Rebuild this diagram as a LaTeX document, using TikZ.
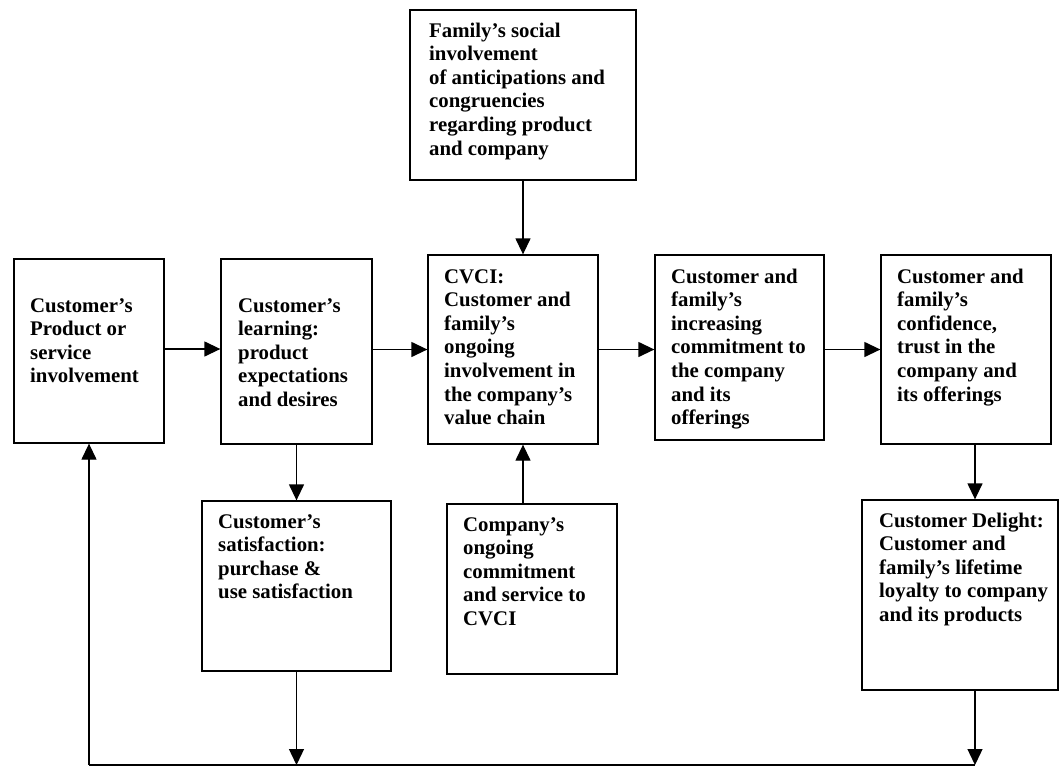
\documentclass[tikz,border=0pt]{standalone}
\usepackage{fontspec}
\setmainfont{Liberation Serif}
\usetikzlibrary{arrows.meta,calc}
\begin{document}
\begin{tikzpicture}[x=1pt,y=-1pt,
  box/.style={draw,line width=1.3pt,inner sep=0pt},
  txt/.style={inner sep=0pt,anchor=base west,font=\bfseries\fontsize{20.8}{23.6}\selectfont},
  arr/.style={line width=1.3pt,-{Triangle[length=16pt,width=15pt]}},
  ln/.style={line width=1.3pt}]
\useasboundingbox (0,0) rectangle (1060,766);
\fill[white] (0,0) rectangle (1060,766);
% boxes
\node[box,minimum width=150pt,minimum height=184pt] (A) at (89,351) {};
\node[box,minimum width=151pt,minimum height=185pt] (B) at (296.5,351.5) {};
\node[box,minimum width=170pt,minimum height=189pt] (C) at (513,349.5) {};
\node[box,minimum width=226pt,minimum height=170pt] (T) at (523,95) {};
\node[box,minimum width=169pt,minimum height=185pt] (D) at (739.5,347.5) {};
\node[box,minimum width=170pt,minimum height=189pt] (E) at (966,349.5) {};
\node[box,minimum width=189pt,minimum height=170pt] (F) at (296.5,586) {};
\node[box,minimum width=170pt,minimum height=170pt] (G) at (532,589) {};
\node[box,minimum width=196pt,minimum height=190pt] (H) at (960,595) {};
% texts
\node[txt] (tA) at (30,312) {\parbox[t]{140pt}{\raggedright Customer’s\\Product or\\service\\involvement}};
\node[txt] (tB) at (238,312) {\parbox[t]{140pt}{\raggedright Customer’s\\learning:\\product\\expectations\\and desires}};
\node[txt] (tT) at (429,37) {\parbox[t]{210pt}{\raggedright Family’s social\\involvement\\of anticipations and\\congruencies\\regarding product\\and company}};
\node[txt] (tC) at (444,283) {\parbox[t]{160pt}{\raggedright CVCI:\\Customer and\\family’s\\ongoing\\involvement in\\the company’s\\value chain}};
\node[txt] (tD) at (671,283) {\parbox[t]{160pt}{\raggedright Customer and\\family’s\\increasing\\commitment to\\the company\\and its\\offerings}};
\node[txt] (tE) at (897,283) {\parbox[t]{160pt}{\raggedright Customer and\\family’s\\confidence,\\trust in the\\company and\\its offerings}};
\node[txt] (tF) at (218,528) {\parbox[t]{180pt}{\raggedright Customer’s\\satisfaction:\\purchase \&\\use satisfaction}};
\node[txt] (tG) at (463,531) {\parbox[t]{160pt}{\raggedright Company’s\\ongoing\\commitment\\and service to\\CVCI}};
\node[txt] (tH) at (879,527) {\parbox[t]{190pt}{\raggedright Customer Delight:\\Customer and\\family’s lifetime\\loyalty to company\\and its products}};
% coordinates
\coordinate (bl) at (89,765);
\coordinate (br) at (975,765);
% connectors
\draw[arr] ([yshift=2pt]A.east) -- ([yshift=2pt]A.east -| B.west);
\draw[arr] ([yshift=2pt]B.east) -- ([yshift=2pt]B.east -| C.west);
\draw[arr] (C.east) -- (C.east -| D.west);
\draw[arr] (C.east -| D.east) -- (C.east -| E.west);
\draw[arr] (T.south) -- (T.south |- C.north);
\draw[arr] (T.south |- G.north) -- (T.south |- C.south);
\draw[arr] (B.south) -- (F.north);
\draw[arr] (br |- E.south) -- (br |- H.north);
\draw[arr] (F.south) -- (F.south |- bl);
\draw[arr] (br |- H.south) -- (br);
\draw[line width=1.7pt] (bl) -- (br);
\draw[arr] (bl) -- (A.south);
\end{tikzpicture}
\end{document}
